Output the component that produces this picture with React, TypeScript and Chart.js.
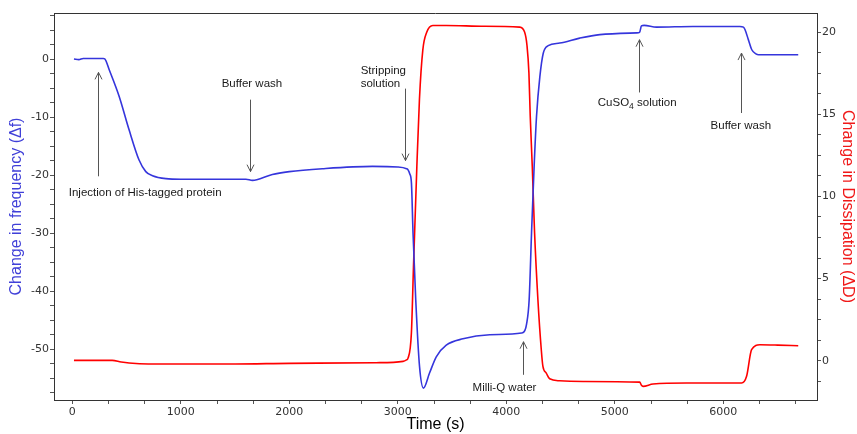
import { useEffect, useRef } from 'react';
import { Chart, registerables } from 'chart.js';

Chart.register(...registerables);

// Frequency change (Δf) trace
const freqTime = [15, 60, 100, 200, 285, 300, 339, 431, 523, 615, 677, 739, 862, 1000, 1300, 1600, 1660, 1700, 1843, 2000, 2305, 2766, 3000, 3080, 3094, 3110, 3125, 3140, 3165, 3200, 3236, 3292, 3354, 3446, 3600, 3847, 4140, 4170, 4185, 4210, 4232, 4256, 4278, 4309, 4340, 4386, 4492, 4676, 4862, 5200, 5228, 5245, 5270, 5384, 5719, 6153, 6185, 6200, 6231, 6262, 6300, 6324, 6521, 6690];
const freqValues = [0.0, -0.1, 0.1, 0.1, 0.1, 0.0, -1.8, -6.4, -12.2, -17.4, -19.4, -20.1, -20.6, -20.7, -20.7, -20.7, -20.9, -20.8, -19.9, -19.4, -18.9, -18.5, -18.6, -18.9, -19.1, -19.8, -21.3, -30.0, -41.5, -53.0, -56.7, -54.1, -51.3, -49.3, -48.2, -47.5, -47.2, -46.8, -45.8, -41.5, -30.0, -18.5, -9.9, -3.0, 1.0, 2.3, 2.75, 3.6, 4.2, 4.5, 4.6, 5.7, 5.8, 5.5, 5.6, 5.6, 5.5, 5.05, 3.3, 1.6, 0.9, 0.74, 0.74, 0.74];

// Dissipation change (ΔD) trace
const dissTime = [15, 368, 450, 523, 700, 1500, 2000, 2800, 3048, 3080, 3094, 3125, 3144, 3175, 3199, 3230, 3267, 3322, 3446, 3800, 4122, 4168, 4190, 4208, 4220, 4239, 4260, 4291, 4322, 4337, 4368, 4399, 4491, 4709, 5229, 5245, 5260, 5352, 5660, 6168, 6214, 6260, 6337, 6500, 6690];
const dissValues = [0.02, 0.02, -0.08, -0.14, -0.2, -0.2, -0.16, -0.12, -0.04, 0.05, 0.16, 1.7, 5.7, 11.8, 15.9, 18.9, 20.0, 20.4, 20.4, 20.35, 20.3, 20.0, 19.2, 17.5, 14.9, 11.8, 7.8, 3.7, 0.67, -0.35, -0.75, -1.1, -1.22, -1.26, -1.3, -1.5, -1.56, -1.42, -1.36, -1.36, -0.95, 0.67, 0.97, 0.95, 0.91];

// Axis tick positions
const xTickValues = Array.from({ length: 21 }, (_, i) => (i * 1000) / 3);
const leftTickValues = Array.from({ length: 27 }, (_, i) => -57.5 + i * 2.5);
const rightTickValues = Array.from({ length: 18 }, (_, i) => -1.25 + i * 1.25);

// Annotations (time in s, vertical positions in Δf units)
const annotationTexts = ['Injection of His-tagged protein', 'Buffer wash', 'Stripping|solution', 'Milli-Q water', 'CuSO4 solution', 'Buffer wash'];
const annotationArrowX = [240, 1637, 3064, 4150, 5220, 6161];
const annotationArrowTip = [-2.3, -19.4, -17.5, -48.7, 3.33, 1.03];
const annotationArrowTail = [-20.2, -7.0, -5.1, -54.4, -5.76, -9.3];
const annotationTextX = [671, 1655, 2657, 3983, 5206, 6161];
const annotationTextY = [-23.0, -4.26, -1.97, -56.6, -7.6, -11.5];

const FONT = "'Liberation Sans', Arial, sans-serif";
const TICK_FONT = "'DejaVu Sans', Verdana, sans-serif";

const annotationPlugin = {
  id: 'qcmAnnotations',
  afterDatasetsDraw(chart: any) {
    const { ctx, chartArea, scales } = chart;
    const xs = scales.x;
    const ys = scales.y;
    ctx.save();
    // top frame line
    ctx.strokeStyle = '#333';
    ctx.lineWidth = 1;
    ctx.beginPath();
    ctx.moveTo(chartArea.left, chartArea.top + 0.5);
    ctx.lineTo(chartArea.right, chartArea.top + 0.5);
    ctx.stroke();

    annotationTexts.forEach((text, i) => {
      const ax = Math.round(xs.getPixelForValue(annotationArrowX[i])) + 0.5;
      const tipY = ys.getPixelForValue(annotationArrowTip[i]);
      const tailY = ys.getPixelForValue(annotationArrowTail[i]);
      ctx.strokeStyle = '#555';
      ctx.lineWidth = 1;
      ctx.beginPath();
      ctx.moveTo(ax, tailY);
      ctx.lineTo(ax, tipY);
      const dir = tipY < tailY ? 1 : -1;
      ctx.moveTo(ax - 3.5, tipY + dir * 7);
      ctx.lineTo(ax, tipY);
      ctx.lineTo(ax + 3.5, tipY + dir * 7);
      ctx.stroke();

      const tx = xs.getPixelForValue(annotationTextX[i]);
      const ty = ys.getPixelForValue(annotationTextY[i]);
      ctx.fillStyle = '#1a1a1a';
      ctx.font = `11.5px ${FONT}`;
      ctx.textBaseline = 'middle';
      if (text.includes('|')) {
        ctx.textAlign = 'left';
        const lines = text.split('|');
        const ty2 = ys.getPixelForValue(-4.26);
        ctx.fillText(lines[0], tx, ty);
        ctx.fillText(lines[1], tx, ty2);
      } else if (text.startsWith('CuSO4')) {
        const a = 'CuSO';
        const b = '4';
        const c = ' solution';
        ctx.font = `11.5px ${FONT}`;
        const wa = ctx.measureText(a).width;
        const wc = ctx.measureText(c).width;
        ctx.font = `8.5px ${FONT}`;
        const wb = ctx.measureText(b).width;
        const start = tx - (wa + wb + wc) / 2;
        ctx.textAlign = 'left';
        ctx.font = `11.5px ${FONT}`;
        ctx.fillText(a, start, ty);
        ctx.fillText(c, start + wa + wb, ty);
        ctx.font = `8.5px ${FONT}`;
        ctx.fillText(b, start + wa, ty + 4);
      } else {
        ctx.textAlign = 'center';
        ctx.fillText(text, tx, ty);
      }
    });
    ctx.restore();
  },
};

const isMultiple = (v: number, m: number) => Math.abs(v / m - Math.round(v / m)) < 1e-6;

export default function App() {
  const canvasRef = useRef<HTMLCanvasElement | null>(null);

  useEffect(() => {
    if (!canvasRef.current) return;
    const tickFont = { family: TICK_FONT, size: 11 };
    const chart = new Chart(canvasRef.current, {
      type: 'line',
      data: {
        datasets: [
          {
            label: 'Δf',
            data: freqTime.map((t, i) => ({ x: t, y: freqValues[i] })),
            borderColor: '#3535dc',
            borderWidth: 1.6,
            pointRadius: 0,
            cubicInterpolationMode: 'monotone',
            yAxisID: 'y',
          },
          {
            label: 'ΔD',
            data: dissTime.map((t, i) => ({ x: t, y: dissValues[i] })),
            borderColor: '#ff0000',
            borderWidth: 1.6,
            pointRadius: 0,
            cubicInterpolationMode: 'monotone',
            yAxisID: 'y1',
          },
        ],
      },
      options: {
        animation: false,
        responsive: false,
        devicePixelRatio: 1,
        layout: { padding: { top: 13, left: 0, right: 0, bottom: 0 } },
        plugins: { legend: { display: false }, tooltip: { enabled: false } },
        scales: {
          x: {
            type: 'linear',
            min: -169,
            max: 6863,
            afterBuildTicks: (s: any) => {
              s.ticks = xTickValues.map((v) => ({ value: v }));
            },
            afterFit: (s: any) => {
              s.height = 34;
            },
            ticks: {
              autoSkip: false,
              maxRotation: 0,
              padding: 2,
              color: '#333',
              font: tickFont,
              callback: (v: any) => (isMultiple(Number(v), 1000) ? String(Math.round(Number(v))) : ''),
            },
            grid: { drawOnChartArea: false, tickLength: 4, color: '#555' },
            border: { color: '#333', width: 1 },
            title: { display: true, text: 'Time (s)', color: '#000', font: { family: FONT, size: 16 }, padding: 0 },
          },
          y: {
            type: 'linear',
            position: 'left',
            min: -58.74,
            max: 7.93,
            afterBuildTicks: (s: any) => {
              s.ticks = leftTickValues.map((v) => ({ value: v }));
            },
            afterFit: (s: any) => {
              s.width = 54;
            },
            ticks: {
              autoSkip: false,
              padding: 1,
              color: '#333',
              font: tickFont,
              callback: (v: any) => (isMultiple(Number(v), 10) ? String(Math.round(Number(v))) : ''),
            },
            grid: { drawOnChartArea: false, tickLength: 4, color: '#555' },
            border: { color: '#333', width: 1 },
            title: { display: true, text: 'Change in frequency (Δf)', color: '#4040d8', font: { family: FONT, size: 16 }, padding: { top: 7, bottom: 0 } },
          },
          y1: {
            type: 'linear',
            position: 'right',
            min: -2.39,
            max: 21.16,
            afterBuildTicks: (s: any) => {
              s.ticks = rightTickValues.map((v) => ({ value: v }));
            },
            afterFit: (s: any) => {
              s.width = 40;
            },
            ticks: {
              autoSkip: false,
              padding: 1,
              color: '#333',
              font: tickFont,
              callback: (v: any) => (isMultiple(Number(v), 5) ? String(Math.round(Number(v))) : ''),
            },
            grid: { drawOnChartArea: false, tickLength: 4, color: '#555' },
            border: { color: '#333', width: 1 },
            title: { display: true, text: 'Change in Dissipation (ΔD)', color: '#f01818', font: { family: FONT, size: 16 }, padding: { top: 0, bottom: 0 } },
          },
        },
      },
      plugins: [annotationPlugin],
    } as any);
    return () => chart.destroy();
  }, []);

  return (
    <div style={{ position: 'absolute', left: 0, top: 0, width: 857, height: 434, background: '#fff' }}>
      <canvas ref={canvasRef} width={857} height={434} />
    </div>
  );
}
